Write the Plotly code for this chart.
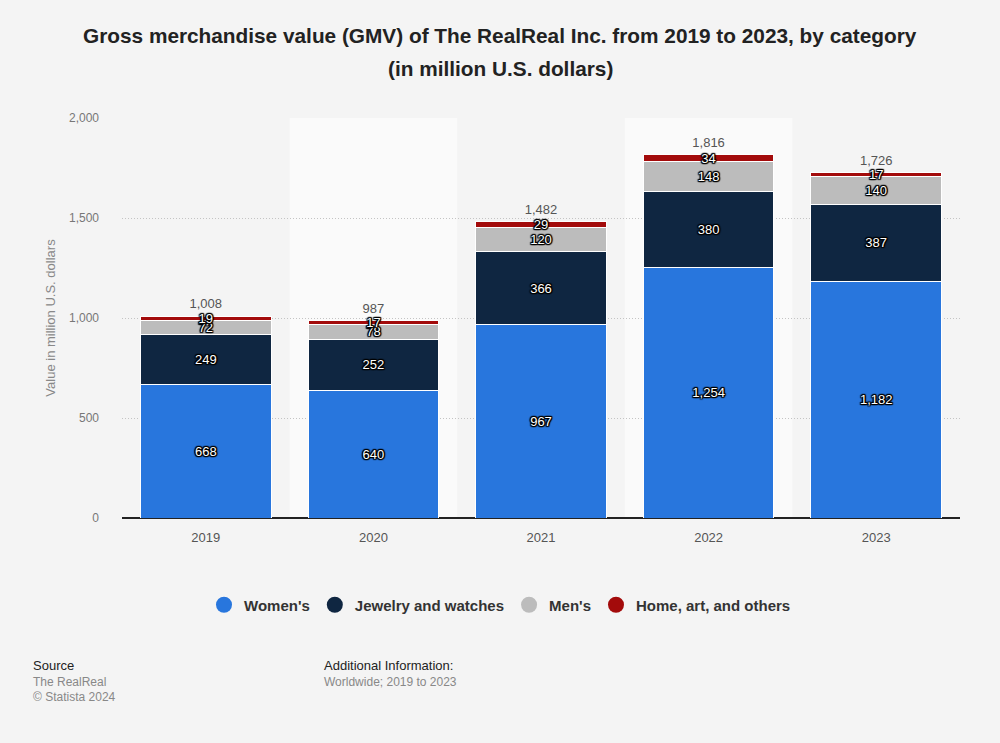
import plotly.graph_objects as go

years = ["2019", "2020", "2021", "2022", "2023"]
womens = [668, 640, 967, 1254, 1182]
jewelry = [249, 252, 366, 380, 387]
mens = [72, 78, 120, 148, 140]
home = [19, 17, 29, 34, 17]
series_names = ["Women's", "Jewelry and watches", "Men's", "Home, art, and others"]
series_values = [womens, jewelry, mens, home]
colors = ["#2876dd", "#0f2641", "#bcbcbc", "#a30b0b"]
totals = [sum(v) for v in zip(womens, jewelry, mens, home)]

FONT = "Liberation Sans, Arial, sans-serif"
shadow = ("-1px -1px 1px #000, 1px -1px 1px #000, -1px 1px 1px #000, 1px 1px 1px #000, "
          "0 -1px 1px #000, 0 1px 1px #000, -1px 0 1px #000, 1px 0 1px #000")

fig = go.Figure()
for name, vals, col in zip(series_names, series_values, colors):
    fig.add_trace(go.Bar(
        x=years, y=vals, name=name, marker=dict(color=col, line=dict(color="#ffffff", width=1)),
        text=[f"{v:,}" for v in vals], textposition="inside", insidetextanchor="middle",
        textangle=0,
        textfont=dict(color="#ffffff", size=13, family=FONT, shadow=shadow),
        constraintext="none", showlegend=False, hoverinfo="x+y+name",
    ))

fig.add_trace(go.Scatter(
    x=years, y=totals, mode="markers+text", text=[f"{t:,}" for t in totals],
    marker=dict(size=6, opacity=0),
    textposition="top center", textfont=dict(color="#555555", size=13, family=FONT),
    showlegend=False, cliponaxis=False, hoverinfo="skip",
))

for name, col in zip(series_names, colors):
    fig.add_trace(go.Scatter(
        x=[None], y=[None], mode="markers", name=name,
        marker=dict(color=col, size=17, symbol="circle"), showlegend=True,
    ))

shapes = []
for i, y in enumerate(years):
    if i % 2 == 1:
        shapes.append(dict(type="rect", xref="x", yref="paper", x0=i - 0.5, x1=i + 0.5,
                           y0=0, y1=1, fillcolor="#fafafa", line=dict(width=0), layer="below"))

annotations = [
    dict(text="Source", x=31, y=665, font=dict(size=13, color="#222222")),
    dict(text="The RealReal", x=31, y=682, font=dict(size=12, color="#888888")),
    dict(text="© Statista 2024", x=31, y=697, font=dict(size=12, color="#888888")),
    dict(text="Additional Information:", x=322, y=665, font=dict(size=13, color="#222222")),
    dict(text="Worldwide; 2019 to 2023", x=322, y=682, font=dict(size=12, color="#888888")),
]
ann = []
for a in annotations:
    ann.append(dict(text=a["text"], xref="paper", yref="paper",
                    x=(a["x"] - 122) / 838, y=(518 - a["y"]) / 400,
                    xanchor="left", yanchor="middle", showarrow=False,
                    font=dict(family=FONT, **a["font"])))

title_lines = ["Gross merchandise value (GMV) of The RealReal Inc. from 2019 to 2023, by category",
               "(in million U.S. dollars)"]
for line, ypix in zip(title_lines, [35, 68]):
    ann.append(dict(text=f"<b>{line}</b>", xref="paper", yref="paper",
                    x=(500 - 122) / 838, y=(518 - ypix) / 400,
                    xanchor="center", yanchor="middle", showarrow=False,
                    font=dict(family=FONT, size=20.8, color="#222222")))

fig.update_layout(
    barmode="stack",
    bargap=0.22,
    width=1000, height=743,
    margin=dict(l=122, r=40, t=118, b=225, autoexpand=False),
    paper_bgcolor="#f4f4f4", plot_bgcolor="#f4f4f4",
    font=dict(family=FONT),
    uniformtext=dict(minsize=13, mode="show"),
    xaxis=dict(type="category", tickfont=dict(size=13, color="#555555"),
               showgrid=False, ticks="", showline=False, ticklabelstandoff=10),
    yaxis=dict(range=[0, 2000], tickvals=[0, 500, 1000, 1500, 2000],
               tickformat=",", tickfont=dict(size=12, color="#777777"),
               showgrid=True, gridcolor="#c4c4c4", griddash="1px,2px", gridwidth=1,
               zeroline=True, zerolinecolor="#222222", zerolinewidth=1.5,
               ticks="", ticklabelstandoff=22,
               title=dict(text="Value in million U.S. dollars", font=dict(size=13, color="#888888"),
                          standoff=10)),
    legend=dict(orientation="h", xref="paper", x=(500 - 122) / 838, xanchor="center",
                y=(518 - 605) / 400, yanchor="middle",
                font=dict(size=15, color="#333333", family=FONT, weight="bold"),
                itemwidth=30, traceorder="normal"),
    shapes=shapes,
    annotations=ann,
)

fig.write_html("out.html")
